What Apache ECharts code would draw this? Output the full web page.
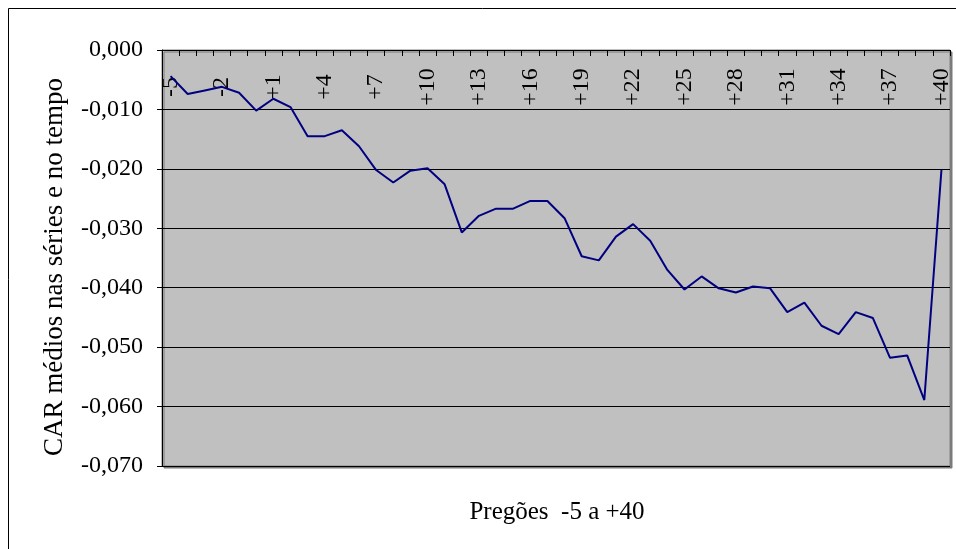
<!DOCTYPE html>
<html>
<head>
<meta charset="utf-8">
<script src="https://cdn.jsdelivr.net/npm/echarts@6/dist/echarts.min.js"></script>
<style>
  html, body { margin: 0; padding: 0; background: #fff; }
  #chart { width: 956px; height: 549px; }
</style>
</head>
<body>
<div id="chart"></div>
<script>
// Trading sessions around the event, -5 ... +40
const sessions = ['-5', '-4', '-3', '-2', '-1', '0',
  '+1', '+2', '+3', '+4', '+5', '+6', '+7', '+8', '+9', '+10',
  '+11', '+12', '+13', '+14', '+15', '+16', '+17', '+18', '+19', '+20',
  '+21', '+22', '+23', '+24', '+25', '+26', '+27', '+28', '+29', '+30',
  '+31', '+32', '+33', '+34', '+35', '+36', '+37', '+38', '+39', '+40'];

// Mean cumulative abnormal returns (CAR)
const carValues = [-0.0044, -0.0074, -0.0068, -0.0062, -0.0072, -0.0102,
  -0.0082, -0.0096, -0.0145, -0.0145, -0.0135, -0.0162, -0.0202, -0.0223, -0.0203, -0.0199,
  -0.0226, -0.0307, -0.0279, -0.0267, -0.0267, -0.0254, -0.0254, -0.0283, -0.0347, -0.0354,
  -0.0314, -0.0293, -0.0321, -0.0370, -0.0403, -0.0381, -0.0401, -0.0408, -0.0398, -0.0401,
  -0.0441, -0.0425, -0.0464, -0.0478, -0.0441, -0.0451, -0.0518, -0.0514, -0.0589, -0.0202];

const yTitle = 'CAR médios nas séries e no tempo';
const xTitle = 'Pregões  -5 a +40';

const serif = '"Liberation Serif", "DejaVu Serif", serif';
const chart = echarts.init(document.getElementById('chart'), null, { renderer: 'canvas' });

chart.setOption({
  animation: false,
  backgroundColor: '#ffffff',
  textStyle: { fontFamily: serif },
  graphic: [
    {
      type: 'rect',
      shape: { x: 8.5, y: 8.5, width: 1000, height: 1000 },
      style: { fill: 'none', stroke: '#000', lineWidth: 1 },
      silent: true
    },
    {
      type: 'text',
      style: {
        text: yTitle, font: '27px ' + serif, fill: '#000',
        textAlign: 'center', textVerticalAlign: 'middle'
      },
      x: 55, y: 267, rotation: Math.PI / 2,
      silent: true
    },
    {
      type: 'text',
      style: {
        text: xTitle, font: '25px ' + serif, fill: '#000',
        textAlign: 'center', textVerticalAlign: 'middle'
      },
      x: 557, y: 512,
      silent: true
    }
  ],
  grid: {
    left: 162, top: 50, right: 6, bottom: 83,
    show: true,
    backgroundColor: '#c0c0c0',
    borderColor: '#808080',
    borderWidth: 1,
    shadowColor: '#7a7a7a',
    shadowOffsetX: 2,
    shadowOffsetY: 2,
    shadowBlur: 0
  },
  xAxis: {
    type: 'category',
    position: 'top',
    data: sessions,
    boundaryGap: true,
    axisLine: { show: true, lineStyle: { color: '#000', width: 1 } },
    axisTick: { show: true, inside: true, length: 6, interval: 0, lineStyle: { color: '#000' } },
    axisLabel: {
      inside: true,
      interval: 2,
      rotate: 90,
      margin: 37,
      align: 'center',
      verticalAlign: 'middle',
      color: '#000',
      fontSize: 24,
      fontFamily: serif
    },
    splitLine: { show: false }
  },
  yAxis: {
    type: 'value',
    min: -0.07,
    max: 0,
    interval: 0.01,
    axisLine: { show: true, lineStyle: { color: '#000', width: 1 } },
    axisTick: { show: true, length: 5, lineStyle: { color: '#000' } },
    axisLabel: {
      margin: 19,
      color: '#000',
      fontSize: 24,
      fontFamily: serif,
      formatter: v => v.toFixed(3).replace('.', ',')
    },
    splitLine: { show: true, lineStyle: { color: '#000', width: 1 } }
  },
  series: [{
    type: 'line',
    data: carValues,
    symbol: 'none',
    lineStyle: { color: '#000080', width: 2 },
    z: 3
  }]
});
</script>
</body>
</html>
